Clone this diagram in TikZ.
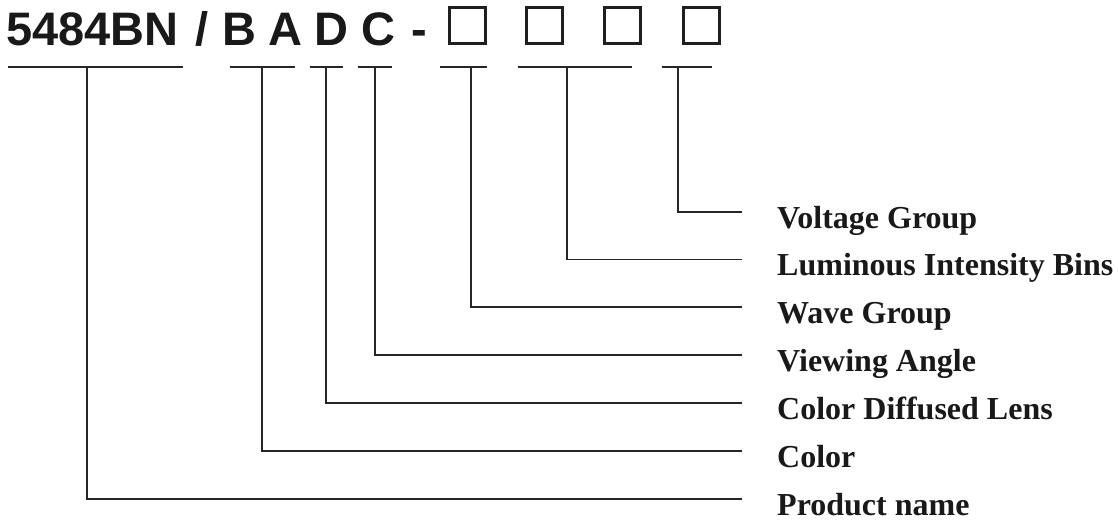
\documentclass[tikz,border=0pt]{standalone}
\usepackage{fontspec}
\setmainfont{Liberation Serif}
\newfontfamily\headfont{Liberation Sans}
\begin{document}
\begin{tikzpicture}[x=1pt,y=-1pt,
  conn/.style={line width=1.5pt, draw=black!85},
  ubar/.style={line width=1.5pt, draw=black!85},
  codebox/.style={draw=black!88, line width=3pt, minimum size=36pt, inner sep=0pt},
  head/.style={anchor=base west, inner sep=0pt, font=\headfont\bfseries\fontsize{47}{50}\selectfont, text=black!90},
  lbl/.style={anchor=base west, inner sep=0pt, font=\bfseries\fontsize{32}{36}\selectfont, text=black!90}]
\useasboundingbox (0,0) rectangle (1118,522);
% header text
\node[head] (hname) at (6,45) {5484BN};
\node[head] (hslash) at (195,45) {/};
\node[head] (hB) at (222.6,45) {B};
\node[head] (hA) at (268,45) {A};
\node[head] (hD) at (314.6,45) {D};
\node[head] (hC) at (360.8,45) {C};
\node[head] (hdash) at (411,45) {-};
\node[codebox] (b1) at (467.5,25.5) {};
\node[codebox] (b2) at (544.5,25.5) {};
\node[codebox] (b3) at (622.5,25.5) {};
\node[codebox] (b4) at (701,25.5) {};
% labels
\node[lbl] (l7) at (777,228) {Voltage Group};
\node[lbl] (l6) at (777,275.5) {Luminous Intensity Bins};
\node[lbl] (l5) at (777,323) {Wave Group};
\node[lbl] (l4) at (777,371) {Viewing Angle};
\node[lbl] (l3) at (777,419) {Color Diffused Lens};
\node[lbl] (l2) at (777,467) {Color};
\node[lbl] (l1) at (777,515) {Product name};
% underline bars
\foreach \i/\a/\b/\v in {1/8/183/87, 2/230/295/262, 3/310/343/326, 4/358/392/375, 5/440/487/471, 6/518/632/567, 7/662/712/678}{
  \coordinate (ua\i) at (\a,67);
  \coordinate (ub\i) at (\b,67);
  \coordinate (uv\i) at (\v,67);
  \draw[ubar] (ua\i) -- (ub\i);
}
% connector ends
\foreach \i/\y in {7/212, 6/259.5, 5/307, 4/355, 3/403, 2/451, 1/499}{
  \coordinate (e\i) at (742,\y);
  \draw[conn] (uv\i) |- (e\i);
}
\end{tikzpicture}
\end{document}
